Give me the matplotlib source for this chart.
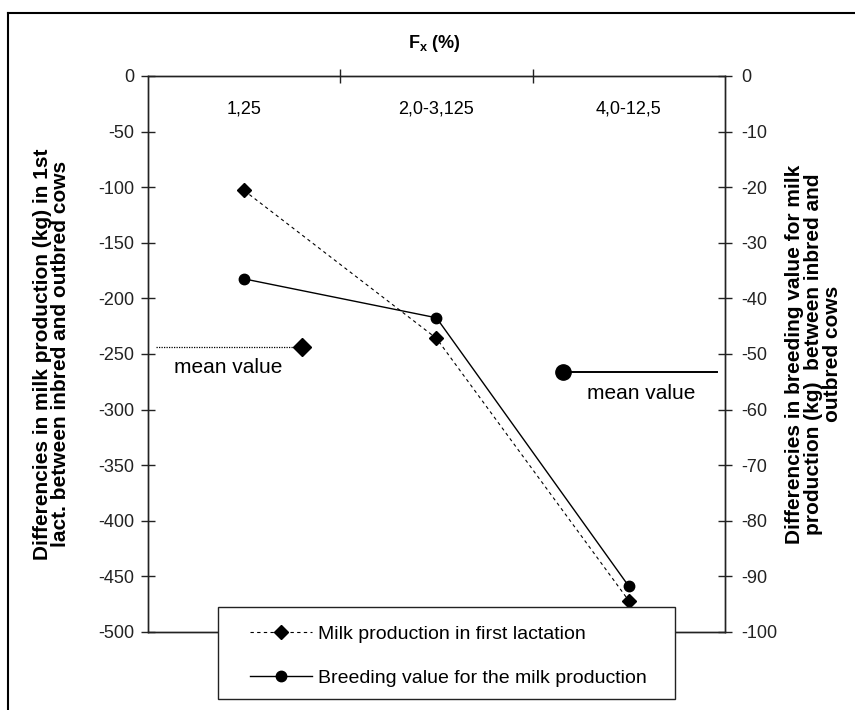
import matplotlib
matplotlib.use('Agg')
import matplotlib.pyplot as plt
from matplotlib.lines import Line2D
from matplotlib.patches import Rectangle

plt.rcParams['font.family'] = ['Liberation Sans', 'DejaVu Sans']
plt.rcParams['axes.unicode_minus'] = False
plt.rcParams['mathtext.fontset'] = 'custom'
plt.rcParams['mathtext.bf'] = 'Liberation Sans:bold'
plt.rcParams['mathtext.rm'] = 'Liberation Sans'

# categories of inbreeding coefficient Fx (%)
categories = ['1,25', '2,0-3,125', '4,0-12,5']
milk_first_lact = [-103, -236, -472]      # left axis (kg)
breeding_value = [-36.5, -43.5, -91.8]    # right axis (kg)
milk_mean = -244
breeding_mean = -53.2

fig = plt.figure(figsize=(8.55, 7.10), dpi=100)
fig.patch.set_facecolor('white')
ax = fig.add_axes([0.173, 0.110, 0.675, 0.783])
ax2 = ax.twinx()

x = list(range(len(categories)))
ax.plot(x, milk_first_lact, linestyle=(0, (3, 3)), color='black', lw=0.8,
        marker='D', markersize=7, zorder=3)
ax2.plot(x, breeding_value, linestyle='-', color='black', lw=1.0,
         marker='o', markersize=7.5, zorder=3)

# mean value markers
ax.plot([-0.46, 0.30], [milk_mean, milk_mean], linestyle=(0, (1, 1)),
        color='black', lw=0.9)
ax.plot([0.30], [milk_mean], marker='D', color='black', markersize=9)
ax.text(-0.365, milk_mean - 10, 'mean value', ha='left', va='top', fontsize=15)
ax2.plot([1.66, 2.46], [breeding_mean, breeding_mean], color='black', lw=1.4)
ax2.plot([1.66], [breeding_mean], marker='o', color='black', markersize=11)
ax2.text(1.785, breeding_mean - 2.2, 'mean value', ha='left', va='top', fontsize=15)

ax.set_xlim(-0.5, 2.5)
ax.set_ylim(-500, 0)
ax2.set_ylim(-100, 0)

ax.set_yticks(range(-500, 1, 50))
ax2.set_yticks(range(-100, 1, 10))
ax.set_xticks([0.5, 1.5])
ax.set_xticklabels([])
ax.xaxis.tick_top()

for a in (ax, ax2):
    for s in a.spines.values():
        s.set_linewidth(1.0)
        s.set_color('#222222')
    a.tick_params(direction='inout', length=10, width=1.0, labelsize=13,
                  colors='#222222')
ax.tick_params(axis='y', pad=5)
ax2.tick_params(axis='y', pad=7)

for xi, lab in zip(x, categories):
    ax.text(xi, -22, lab, ha='center', va='top', fontsize=13)

fig.text(0.508, 0.939, r'F$_{\mathbf{x}}$ (%)', ha='center', va='center',
         fontsize=13, fontweight='bold')

ax.set_ylabel('Differencies in milk production (kg) in 1st\n'
              'lact. between inbred and outbred cows',
              fontsize=15, fontweight='bold', labelpad=20, linespacing=0.95)
ax2.set_ylabel('Differencies in breeding value for milk\n'
               'production (kg)  between inbred and\noutbred cows',
               fontsize=15, fontweight='bold', labelpad=5, linespacing=1.0,
               rotation=90)

# legend: white box with frame, entries placed inside
ax2.add_patch(Rectangle((0.121, -0.1205), 0.792, 0.165, transform=ax2.transAxes,
                        facecolor='white', edgecolor='#222222', lw=1.0,
                        clip_on=False, zorder=8))
handles = [
    Line2D([], [], color='black', linestyle=(0, (3, 3)), lw=0.8,
           marker='D', markersize=7),
    Line2D([], [], color='black', linestyle='-', lw=1.0,
           marker='o', markersize=7.5),
]
leg = ax2.legend(handles, ['Milk production in first lactation',
                           'Breeding value for the milk production'],
                 loc='upper left', bbox_to_anchor=(0.1768, 0.0126),
                 fontsize=14, frameon=False, handlelength=3.2,
                 handletextpad=0.3, borderpad=0, labelspacing=1.36,
                 borderaxespad=0)
leg.set_zorder(10)

# outer frame (top and left edges only)
fig.add_artist(Line2D([0.0094, 1.0], [0.9817, 0.9817], color='black', lw=1.5,
                      transform=fig.transFigure))
fig.add_artist(Line2D([0.0094, 0.0094], [0.0, 0.9817], color='black', lw=1.5,
                      transform=fig.transFigure))

fig.savefig('out.png', dpi=100)
